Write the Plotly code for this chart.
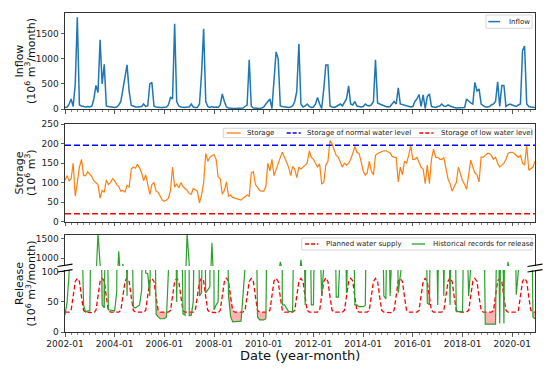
import pandas as pd
import plotly.graph_objects as go

# ---------------- data (monthly, 2002-01 .. 2020-12) ----------------
dates = [d.strftime('%Y-%m-%d') for d in pd.date_range('2002-01-01', '2020-12-01', freq='MS')]

inflow_2002 = [30, 40, 90, 200, 50, 500, 1830, 80, 60, 50, 40, 50]
inflow_2003 = [40, 60, 200, 470, 330, 1380, 500, 890, 60, 50, 40, 30]
inflow_2004 = [30, 40, 80, 150, 400, 650, 880, 350, 70, 60, 40, 40]
inflow_2005 = [40, 50, 100, 50, 60, 500, 530, 60, 40, 30, 30, 30]
inflow_2006 = [30, 40, 80, 230, 200, 1700, 150, 60, 40, 30, 30, 40]
inflow_2007 = [40, 100, 40, 30, 30, 100, 700, 1600, 150, 50, 30, 50]
inflow_2008 = [30, 40, 30, 80, 300, 150, 40, 20, 10, 10, 10, 10]
inflow_2009 = [10, 10, 20, 50, 80, 980, 60, 20, 15, 10, 10, 20]
inflow_2010 = [40, 100, 150, 200, 10, 600, 1140, 1000, 60, 50, 40, 30]
inflow_2011 = [30, 40, 60, 150, 350, 1300, 100, 40, 60, 100, 50, 30]
inflow_2012 = [40, 100, 230, 100, 10, 400, 880, 880, 60, 40, 30, 50]
inflow_2013 = [80, 100, 60, 120, 200, 460, 100, 80, 150, 60, 50, 40]
inflow_2014 = [50, 100, 70, 60, 80, 150, 980, 120, 100, 80, 60, 50]
inflow_2015 = [40, 50, 100, 150, 100, 420, 100, 90, 80, 60, 50, 40]
inflow_2016 = [50, 150, 200, 290, 50, 280, 10, 250, 300, 50, 40, 30]
inflow_2017 = [50, 60, 100, 60, 50, 80, 60, 40, 30, 20, 20, 20]
inflow_2018 = [20, 30, 200, 150, 120, 100, 530, 360, 400, 100, 60, 40]
inflow_2019 = [40, 50, 80, 100, 150, 540, 50, 470, 470, 50, 80, 100]
inflow_2020 = [80, 60, 50, 80, 100, 1170, 1256, 100, 50, 40, 30, 30]

storage_2002 = [106, 118, 105, 110, 150, 65, 100, 140, 160, 118, 118, 128]
storage_2003 = [122, 115, 105, 100, 95, 60, 80, 75, 107, 95, 100, 110]
storage_2004 = [105, 95, 90, 78, 80, 76, 93, 88, 135, 140, 137, 147]
storage_2005 = [138, 125, 105, 120, 95, 70, 95, 100, 78, 75, 65, 55]
storage_2006 = [52, 55, 60, 80, 140, 88, 97, 87, 100, 90, 85, 80]
storage_2007 = [72, 70, 85, 82, 78, 48, 68, 100, 175, 155, 165, 170]
storage_2008 = [172, 160, 115, 110, 70, 80, 102, 65, 68, 62, 60, 58]
storage_2009 = [56, 55, 60, 65, 68, 65, 125, 128, 95, 88, 80, 78]
storage_2010 = [78, 90, 150, 130, 160, 118, 135, 150, 165, 178, 165, 150]
storage_2011 = [140, 118, 142, 135, 113, 140, 135, 140, 145, 150, 182, 165]
storage_2012 = [160, 150, 140, 148, 97, 100, 145, 155, 208, 200, 185, 170]
storage_2013 = [165, 150, 140, 150, 145, 150, 160, 175, 193, 178, 175, 155]
storage_2014 = [130, 119, 125, 155, 130, 120, 170, 175, 178, 180, 182, 182]
storage_2015 = [180, 176, 168, 165, 165, 102, 140, 120, 155, 150, 170, 195]
storage_2016 = [160, 160, 165, 150, 140, 135, 97, 145, 97, 160, 186, 165]
storage_2017 = [165, 160, 160, 164, 135, 110, 97, 78, 90, 100, 140, 120]
storage_2018 = [105, 95, 83, 120, 158, 140, 125, 120, 102, 166, 165, 170]
storage_2019 = [175, 175, 170, 160, 165, 150, 140, 145, 150, 160, 175, 178]
storage_2020 = [178, 175, 170, 165, 170, 150, 145, 195, 132, 135, 140, 155]

normal_level = 196
low_level = 20

planned_2002 = [33, 33, 33, 36, 62, 84, 89, 84, 58, 36, 33, 33]
planned_2003 = [33, 33, 32, 36, 62, 84, 89, 85, 58, 36, 33, 33]
planned_2004 = [33, 33, 33, 36, 62, 84, 90, 84, 58, 36, 33, 33]
planned_2005 = [33, 32, 33, 36, 62, 85, 89, 84, 58, 36, 33, 33]
planned_2006 = [33, 33, 33, 36, 62, 84, 89, 84, 58, 36, 33, 33]
planned_2007 = [33, 33, 33, 36, 62, 84, 89, 85, 58, 36, 33, 33]
planned_2008 = [33, 33, 32, 36, 62, 84, 90, 84, 58, 36, 33, 33]
planned_2009 = [33, 33, 33, 36, 62, 84, 89, 84, 58, 36, 33, 33]
planned_2010 = [33, 33, 33, 36, 62, 85, 89, 84, 58, 36, 33, 33]
planned_2011 = [33, 33, 33, 36, 62, 84, 89, 84, 58, 36, 33, 33]
planned_2012 = [33, 32, 33, 36, 62, 84, 90, 84, 58, 36, 33, 33]
planned_2013 = [33, 33, 33, 36, 62, 84, 89, 85, 58, 36, 33, 33]
planned_2014 = [33, 33, 33, 36, 62, 84, 89, 84, 58, 36, 33, 33]
planned_2015 = [33, 33, 32, 36, 62, 85, 89, 84, 58, 36, 33, 33]
planned_2016 = [33, 33, 33, 36, 62, 84, 89, 84, 58, 36, 33, 33]
planned_2017 = [33, 33, 33, 36, 62, 84, 90, 84, 58, 36, 33, 33]
planned_2018 = [33, 33, 33, 36, 62, 84, 89, 84, 58, 36, 33, 33]
planned_2019 = [33, 33, 33, 36, 62, 85, 89, 84, 58, 36, 33, 33]
planned_2020 = [33, 33, 33, 36, 62, 84, 89, 84, 58, 36, 33, 33]

release_2002 = [28, 50, 95, 300, 400, 350, 500, 400, 200, 45, 33, 35]
release_2003 = [35, 300, 200, 400, 1650, 300, 45, 40, 300, 37, 36, 35]
release_2004 = [35, 68, 1180, 300, 850, 300, 60, 300, 250, 42, 40, 42]
release_2005 = [45, 70, 300, 98, 97, 60, 300, 300, 30, 25, 22, 22]
release_2006 = [22, 25, 100, 300, 300, 300, 50, 300, 300, 30, 28, 1650]
release_2007 = [27, 28, 50, 300, 300, 60, 65, 300, 65, 70, 75, 1400]
release_2008 = [37, 45, 50, 300, 300, 300, 300, 60, 25, 17, 17, 17]
release_2009 = [17, 18, 60, 300, 300, 300, 300, 300, 300, 25, 20, 20]
release_2010 = [20, 22, 300, 400, 300, 350, 400, 500, 900, 45, 45, 40]
release_2011 = [34, 34, 34, 300, 400, 300, 950, 300, 45, 300, 300, 45]
release_2012 = [45, 300, 300, 300, 60, 300, 300, 300, 300, 300, 300, 58]
release_2013 = [58, 300, 300, 300, 65, 300, 300, 300, 45, 45, 42, 42]
release_2014 = [42, 44, 300, 300, 300, 300, 300, 300, 300, 300, 60, 55]
release_2015 = [300, 60, 300, 300, 300, 65, 300, 300, 300, 300, 300, 300]
release_2016 = [300, 300, 300, 300, 300, 300, 300, 48, 45, 300, 300, 300]
release_2017 = [45, 300, 300, 60, 300, 300, 45, 300, 300, 34, 34, 34]
release_2018 = [34, 300, 300, 60, 300, 300, 300, 300, 300, 300, 300, 13]
release_2019 = [13, 13, 13, 13, 13, 300, 14, 300, 14, 300, 900, 300]
release_2020 = [300, 300, 62, 300, 300, 300, 300, 300, 300, 300, 25, 22]

years = range(2002, 2021)
g = globals()
inflow = sum((g[f'inflow_{y}'] for y in years), [])
storage = sum((g[f'storage_{y}'] for y in years), [])
planned = sum((g[f'planned_{y}'] for y in years), [])
release = sum((g[f'release_{y}'] for y in years), [])
n = len(dates)

# ---------------- geometry helpers (pixels -> paper) ----------------
W, H = 550, 371
ML, MR, MT, MB = 65, 15, 13, 39
PW, PH = W - ML - MR, H - MT - MB
def px(x):
    return (x - ML) / PW
def py(y):
    return (H - MB - y) / PH

FONT = 'DejaVu Sans'
C_IN, C_ST, C_REL = '#1f77b4', '#ff7f0e', '#2ca02c'
AXC = '#333333'

fig = go.Figure()

# panel 1: inflow
fig.add_trace(go.Scatter(x=dates, y=inflow, mode='lines', line=dict(color=C_IN, width=1.5),
                         xaxis='x', yaxis='y', name='Inflow'))
# panel 2: storage
fig.add_trace(go.Scatter(x=dates, y=storage, mode='lines', line=dict(color=C_ST, width=1.2),
                         xaxis='x2', yaxis='y2', name='Storage'))
fig.add_trace(go.Scatter(x=dates, y=[normal_level] * n, mode='lines',
                         line=dict(color='#0000ff', width=1.4, dash='6px,3px'),
                         xaxis='x2', yaxis='y2', name='Storage of normal water level'))
fig.add_trace(go.Scatter(x=dates, y=[low_level] * n, mode='lines',
                         line=dict(color='#ff0000', width=1.4, dash='6px,3px'),
                         xaxis='x2', yaxis='y2', name='Storage of low water level'))

# panel 3: shortage fill (release below planned)
segs, cur = [], []
for k in range(n):
    if release[k] < planned[k]:
        cur.append(k)
    else:
        if cur:
            segs.append(cur)
        cur = []
if cur:
    segs.append(cur)
for seg in segs:
    xs = [dates[k] for k in seg] + [dates[k] for k in reversed(seg)]
    ys = [planned[k] for k in seg] + [release[k] for k in reversed(seg)]
    fig.add_trace(go.Scatter(x=xs, y=ys, mode='lines', fill='toself', fillcolor='rgba(255,0,0,0.3)',
                             line=dict(width=0), xaxis='x4', yaxis='y4', showlegend=False))

fig.add_trace(go.Scatter(x=dates, y=planned, mode='lines',
                         line=dict(color='#ff0000', width=1.3, dash='4.5px,2.5px'),
                         xaxis='x4', yaxis='y4', name='Planned water supply'))
for ax in ('3', '4'):
    fig.add_trace(go.Scatter(x=dates, y=release, mode='lines', line=dict(color=C_REL, width=1.2),
                             xaxis='x' + ax, yaxis='y' + ax, name='Historical records for release'))

# ---------------- axes ----------------
xcommon = dict(type='date', range=['2002-01-01', '2020-12-01'], dtick='M24', tick0='2002-01-01',
               tickformat='%Y-%m', ticks='outside', ticklen=3.5, tickwidth=0.8, tickcolor=AXC,
               minor=dict(dtick='M3', tick0='2002-01-01', ticks='outside', ticklen=2, tickwidth=0.6,
                          tickcolor=AXC, showgrid=False),
               showgrid=False, zeroline=False, showline=True, linecolor=AXC, linewidth=1,
               tickfont=dict(family=FONT, size=9, color='#222'))
ycommon = dict(ticks='outside', ticklen=3.5, tickwidth=0.8, tickcolor=AXC, showgrid=False,
               zeroline=False, showline=True, linecolor=AXC, linewidth=1, mirror=True,
               tickfont=dict(family=FONT, size=9, color='#222'))

fig.update_layout(
    xaxis=dict(xcommon, anchor='y', showticklabels=False, mirror=True),
    xaxis2=dict(xcommon, anchor='y2', showticklabels=False, mirror=True, matches='x'),
    xaxis3=dict(xcommon, anchor='y3', side='top', showticklabels=False, ticks='',
                minor=dict(ticks=''), matches='x'),
    xaxis4=dict(xcommon, anchor='y4', showticklabels=True, matches='x'),
    yaxis=dict(ycommon, anchor='x', domain=[py(109), py(13)], range=[0, 1915],
               tickvals=[0, 500, 1000, 1500]),
    yaxis2=dict(ycommon, anchor='x2', domain=[py(221.5), py(124.3)], range=[0, 250],
                tickvals=[0, 50, 100, 150, 200, 250]),
    yaxis3=dict(ycommon, anchor='x3', domain=[py(266), py(235)], range=[790, 1605],
                tickvals=[1000, 1500]),
    yaxis4=dict(ycommon, anchor='x4', domain=[py(332), py(270)], range=[0, 103],
                tickvals=[0, 50, 100]),
)

# ---------------- manual legends ----------------
shapes, annots = [], []
def legend_box(x0, y0, x1, y1):
    shapes.append(dict(type='rect', xref='paper', yref='paper', x0=px(x0), x1=px(x1), y0=py(y1), y1=py(y0),
                       fillcolor='rgba(255,255,255,0.8)', line=dict(color='#cccccc', width=0.8), layer='above'))
def legend_item(xa, xb, y, color, dash, width, text, tx):
    shapes.append(dict(type='line', xref='paper', yref='paper', x0=px(xa), x1=px(xb), y0=py(y), y1=py(y),
                       line=dict(color=color, width=width, dash=dash), layer='above'))
    annots.append(dict(text=text, xref='paper', yref='paper', x=px(tx), y=py(y), xanchor='left',
                       yanchor='middle', showarrow=False, font=dict(family=FONT, size=7, color='#222')))

legend_box(486, 15, 532, 28.3)
legend_item(488.3, 500, 21.6, C_IN, 'solid', 1.5, 'Inflow', 507)

legend_box(223.3, 128.3, 532, 137.7)
legend_item(226.7, 240.7, 133, C_ST, 'solid', 1.3, 'Storage', 245)
legend_item(286.7, 300.7, 133, '#0000ff', '4px,2px', 1.3, 'Storage of normal water level', 304.5)
legend_item(419.3, 433.3, 133, '#ff0000', '4px,2px', 1.3, 'Storage of low water level', 438.5)

legend_box(301.7, 238, 532, 250)
legend_item(305, 318.3, 244, '#ff0000', '4px,2px', 1.3, 'Planned water supply', 323.5)
legend_item(411.7, 425, 244, C_REL, 'solid', 1.3, 'Historical records for release', 430.5)

# broken-axis marks
for xc in (65, 535):
    for yc in (265.3, 270.8):
        shapes.append(dict(type='line', xref='paper', yref='paper', x0=px(xc - 7.5), x1=px(xc + 7.5),
                           y0=py(yc + 1.2), y1=py(yc - 1.2), line=dict(color='black', width=1.1),
                           layer='above'))

# axis titles
def vtitle(text, x, y):
    annots.append(dict(text=text, xref='paper', yref='paper', x=px(x), y=py(y), xanchor='center',
                       yanchor='middle', textangle=-90, showarrow=False,
                       font=dict(family=FONT, size=11, color='#111')))
vtitle('Inflow', 18.5, 61)
vtitle('(10<sup>6</sup> m<sup>3</sup>/month)', 30, 61)
vtitle('Storage', 19.5, 173)
vtitle('(10<sup>6</sup> m<sup>3</sup>)', 31, 173)
vtitle('Release', 19.5, 283.5)
vtitle('(10<sup>6</sup> m<sup>3</sup>/month)', 31, 283.5)
annots.append(dict(text='Date (year-month)', xref='paper', yref='paper', x=px(300), y=py(355),
                   xanchor='center', yanchor='middle', showarrow=False,
                   font=dict(family=FONT, size=13, color='#111')))

fig.update_layout(
    width=W, height=H, showlegend=False,
    margin=dict(l=ML, r=MR, t=MT, b=MB, autoexpand=False),
    paper_bgcolor='white', plot_bgcolor='white',
    shapes=shapes, annotations=annots,
    font=dict(family=FONT),
)

fig.write_html('out.html', config={'displayModeBar': False, 'staticPlot': True},
               post_script="document.body.style.margin='0';document.body.style.overflow='hidden';")
